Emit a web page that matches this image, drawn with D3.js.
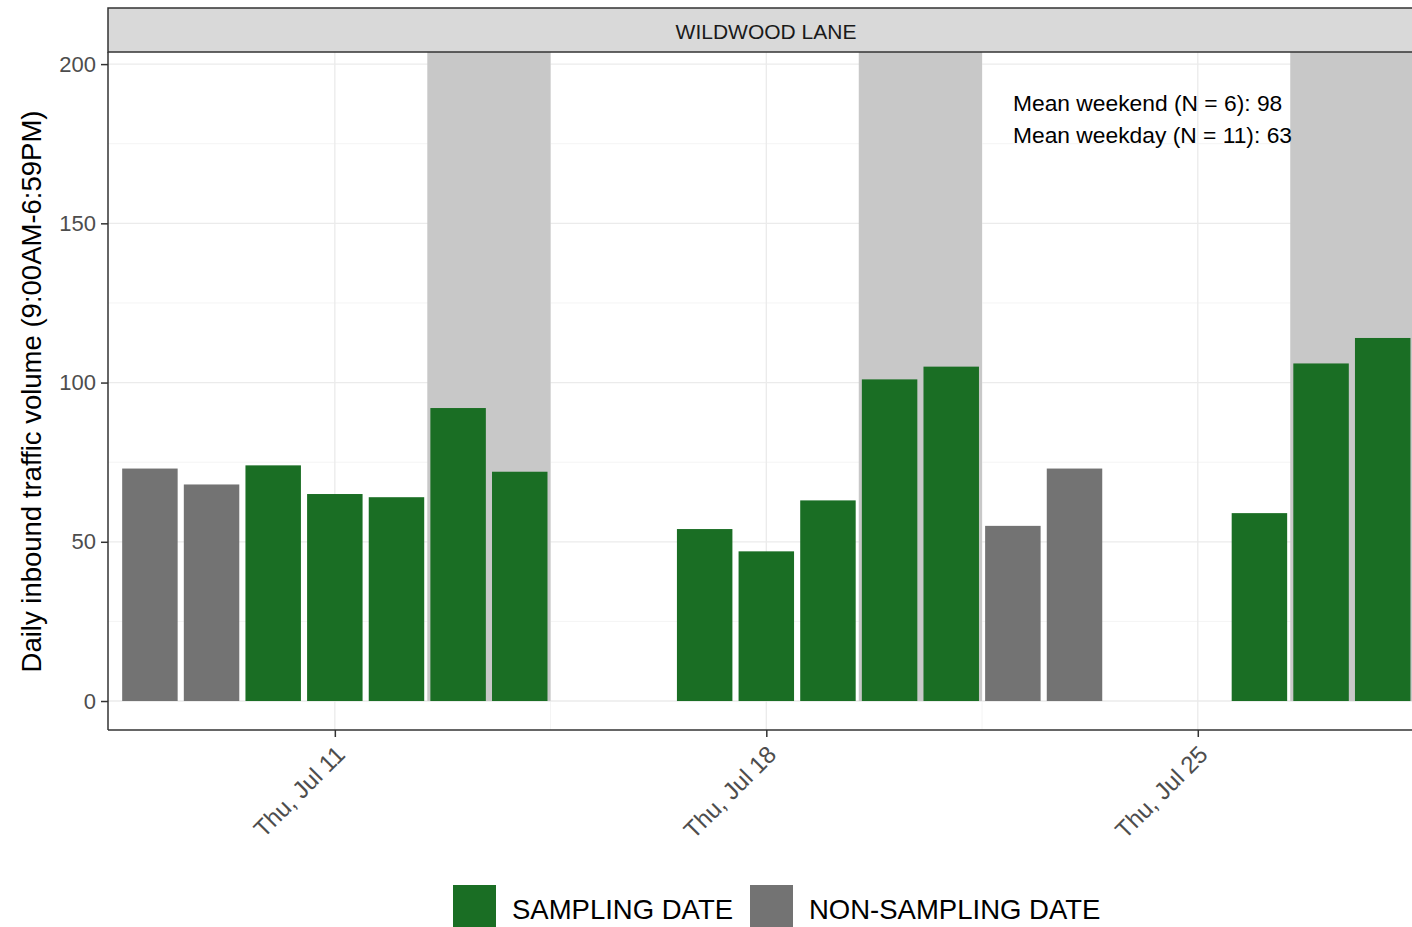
<!DOCTYPE html>
<html>
<head>
<meta charset="utf-8">
<script src="https://cdn.jsdelivr.net/npm/d3@7"></script>
<style>
  html, body { margin: 0; padding: 0; background: #fff; }
  svg { display: block; font-family: "Liberation Sans", Arial, sans-serif; }
</style>
</head>
<body>
<svg id="chart" width="1412" height="927"></svg>
<script>
// ---- data ----
const dates = ["2019-07-08","2019-07-09","2019-07-10","2019-07-11","2019-07-12","2019-07-13","2019-07-14",
               "2019-07-17","2019-07-18","2019-07-19","2019-07-20","2019-07-21","2019-07-22","2019-07-23",
               "2019-07-26","2019-07-27","2019-07-28"];
const volumes = [73, 68, 74, 65, 64, 92, 72, 54, 47, 63, 101, 105, 55, 73, 59, 106, 114];
const status = ["NON-SAMPLING DATE","NON-SAMPLING DATE","SAMPLING DATE","SAMPLING DATE","SAMPLING DATE","SAMPLING DATE","SAMPLING DATE",
                "SAMPLING DATE","SAMPLING DATE","SAMPLING DATE","SAMPLING DATE","SAMPLING DATE","NON-SAMPLING DATE","NON-SAMPLING DATE",
                "SAMPLING DATE","SAMPLING DATE","SAMPLING DATE"];
const weekendStart = ["2019-07-13","2019-07-20","2019-07-27"];
const weekendEnd   = ["2019-07-14","2019-07-21","2019-07-28"];
const xTickDates = ["2019-07-11","2019-07-18","2019-07-25"];
const xTickLabels = ["Thu, Jul 11","Thu, Jul 18","Thu, Jul 25"];
const yTicks = [0, 50, 100, 150, 200];
const yMinorTicks = [25, 75, 125, 175];
const legendKeys = ["SAMPLING DATE", "NON-SAMPLING DATE"];
const legendColors = ["#1a6e24", "#737373"];
const facetLabel = "WILDWOOD LANE";
const yTitle = "Daily inbound traffic volume (9:00AM-6:59PM)";

// ---- layout ----
const panel = { left: 108, right: 1424, top: 52, bottom: 730 };
const strip = { top: 8, bottom: 52 };
const parse = d3.utcParse("%Y-%m-%d");
const HOUR = 3600 * 1000;
const DAY = 24 * HOUR;

const x = d3.scaleUtc()
  .domain([new Date(parse("2019-07-08").getTime() - 0.68 * DAY), new Date(parse("2019-07-28").getTime() + 0.67 * DAY)])
  .range([panel.left, panel.right]);
const y = d3.scaleLinear().domain([-9.1, 203.8]).range([panel.bottom, panel.top]);
const color = d3.scaleOrdinal().domain(legendKeys).range(legendColors);

const svg = d3.select("#chart");

// panel background
svg.append("rect").attr("x", panel.left).attr("y", panel.top)
  .attr("width", panel.right - panel.left).attr("height", panel.bottom - panel.top).attr("fill", "#fff");

// minor grid
const grid = svg.append("g");
grid.selectAll("line.ymin").data(yMinorTicks).join("line")
  .attr("x1", panel.left).attr("x2", panel.right)
  .attr("y1", d => y(d)).attr("y2", d => y(d))
  .attr("stroke", "#f4f4f4").attr("stroke-width", 1);
const xMinor = xTickDates.slice(0, -1).map(d => new Date(parse(d).getTime() + 3.5 * DAY));
grid.selectAll("line.xmin").data(xMinor).join("line")
  .attr("x1", d => x(d)).attr("x2", d => x(d))
  .attr("y1", panel.top).attr("y2", panel.bottom)
  .attr("stroke", "#f4f4f4").attr("stroke-width", 1);
// major grid
grid.selectAll("line.ymaj").data(yTicks).join("line")
  .attr("x1", panel.left).attr("x2", panel.right)
  .attr("y1", d => y(d)).attr("y2", d => y(d))
  .attr("stroke", "#ebebeb").attr("stroke-width", 1.3);
grid.selectAll("line.xmaj").data(xTickDates).join("line")
  .attr("x1", d => x(parse(d))).attr("x2", d => x(parse(d)))
  .attr("y1", panel.top).attr("y2", panel.bottom)
  .attr("stroke", "#ebebeb").attr("stroke-width", 1.3);

// weekend shading
svg.append("g").selectAll("rect").data(weekendStart.map((s, i) => [s, weekendEnd[i]])).join("rect")
  .attr("x", d => x(new Date(parse(d[0]).getTime() - 12 * HOUR)))
  .attr("width", d => x(new Date(parse(d[1]).getTime() + 12 * HOUR)) - x(new Date(parse(d[0]).getTime() - 12 * HOUR)))
  .attr("y", panel.top)
  .attr("height", y(0) - panel.top)
  .attr("fill", "#c8c8c8");

// bars
const barHalf = 0.45 * DAY;
svg.append("g").selectAll("rect").data(dates.map((d, i) => ({ date: parse(d), v: volumes[i], s: status[i] }))).join("rect")
  .attr("x", d => x(new Date(d.date.getTime() - barHalf)))
  .attr("width", d => x(new Date(d.date.getTime() + barHalf)) - x(new Date(d.date.getTime() - barHalf)))
  .attr("y", d => y(d.v))
  .attr("height", d => y(0) - y(d.v))
  .attr("fill", d => color(d.s));

// annotation
const isWeekend = dates.map(d => { const w = parse(d).getUTCDay(); return w === 0 || w === 6; });
const wkEndVals = volumes.filter((v, i) => isWeekend[i]);
const wkDayVals = volumes.filter((v, i) => !isWeekend[i]);
const ann = svg.append("g").attr("font-size", 22.8).attr("fill", "#000");
ann.append("text").attr("x", 1013).attr("y", 111)
  .text(`Mean weekend (N = ${wkEndVals.length}): ${Math.round(d3.mean(wkEndVals))}`);
ann.append("text").attr("x", 1013).attr("y", 143)
  .text(`Mean weekday (N = ${wkDayVals.length}): ${Math.round(d3.mean(wkDayVals))}`);

// strip
svg.append("rect").attr("x", panel.left).attr("y", strip.top)
  .attr("width", panel.right - panel.left).attr("height", strip.bottom - strip.top)
  .attr("fill", "#d9d9d9").attr("stroke", "#333").attr("stroke-width", 1.5);
svg.append("text").attr("x", (panel.left + panel.right) / 2).attr("y", 38.5)
  .attr("text-anchor", "middle").attr("font-size", 21).attr("fill", "#1a1a1a").text(facetLabel);

// axes
const yAxis = d3.axisLeft(y).tickValues(yTicks).tickSize(7).tickPadding(5);
const gy = svg.append("g").attr("transform", `translate(${panel.left},0)`).call(yAxis);
gy.select(".domain").attr("d", `M0,${panel.top}V${panel.bottom}`).attr("stroke", "#333").attr("stroke-width", 1.5);
gy.selectAll(".tick line").attr("stroke", "#333").attr("stroke-width", 1.5);
gy.selectAll(".tick text").attr("font-size", 22).attr("fill", "#4d4d4d").attr("font-family", "Liberation Sans, Arial, sans-serif");

const xAxis = d3.axisBottom(x).tickValues(xTickDates.map(parse)).tickSize(7)
  .tickFormat((d, i) => xTickLabels[i]);
const gx = svg.append("g").attr("transform", `translate(0,${panel.bottom})`).call(xAxis);
gx.select(".domain").attr("d", `M${panel.left},0H${panel.right}`).attr("stroke", "#333").attr("stroke-width", 1.5);
gx.selectAll(".tick line").attr("stroke", "#333").attr("stroke-width", 1.5);
gx.selectAll(".tick text")
  .attr("font-size", 24).attr("fill", "#4d4d4d").attr("font-family", "Liberation Sans, Arial, sans-serif")
  .attr("text-anchor", "end").attr("dy", null).attr("y", 0)
  .attr("transform", "translate(11,26) rotate(-45)");

// y title
svg.append("text")
  .attr("transform", `translate(41,${(108 + 675) / 2}) rotate(-90)`)
  .attr("text-anchor", "middle").attr("font-size", 27.5).attr("fill", "#000").text(yTitle);

// legend
const leg = svg.append("g");
const legX = [453, 750];
legendKeys.forEach((k, i) => {
  leg.append("rect").attr("x", legX[i]).attr("y", 885).attr("width", 43).attr("height", 43).attr("fill", color(k));
  leg.append("text").attr("x", legX[i] + 59).attr("y", 919).attr("font-size", 27.5).attr("fill", "#000").text(k);
});
</script>
</body>
</html>
